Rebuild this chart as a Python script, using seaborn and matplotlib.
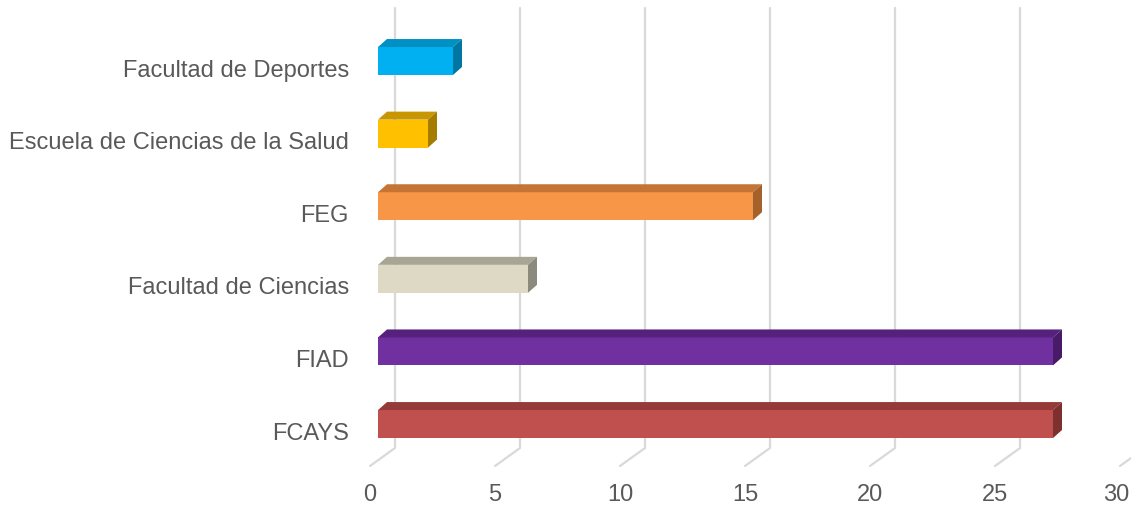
import matplotlib
matplotlib.use("Agg")
import matplotlib.pyplot as plt
import matplotlib.transforms as mtransforms
from matplotlib.patches import Polygon
from matplotlib.lines import Line2D
import seaborn as sns
import pandas as pd

categories = ["Facultad de Deportes", "Escuela de Ciencias de la Salud", "FEG",
              "Facultad de Ciencias", "FIAD", "FCAYS"]
values = [3, 2, 15, 6, 27, 27]
front_colors = ["#00B0F0", "#FFC000", "#F79646", "#DDD9C4", "#7030A0", "#C0504D"]
top_colors = ["#0090C4", "#C89600", "#C47535", "#A8A594", "#56217C", "#953A38"]
side_colors = ["#0077A2", "#A67C00", "#A4612C", "#8C8A7C", "#471B68", "#7E302E"]
x_ticks = [0, 5, 10, 15, 20, 25, 30]

sns.set_theme(style="white")
plt.rcParams['font.family'] = ['Liberation Sans', 'DejaVu Sans']

W, H = 1131, 505
fig = plt.figure(figsize=(W / 100, H / 100), dpi=100)
left_px, right_px, top_px, bot_px = 378, 1128, 8, 466
ax = fig.add_axes([left_px / W, 1 - bot_px / H, (right_px - left_px) / W, (bot_px - top_px) / H])

df = pd.DataFrame({"cat": categories, "val": values})
sns.barplot(data=df, y="cat", x="val", hue="cat", palette=front_colors, legend=False,
            orient="h", width=0.385, saturation=1, ax=ax, zorder=3)

ax.set_xlim(0, 30)
ax.set_ylim(5.578, -0.73)
for s in ax.spines.values():
    s.set_visible(False)
ax.set_xlabel("")
ax.set_ylabel("")
ax.grid(False)

# depth offsets in pixels
bdx, bdy = 9, 8         # bar depth
gback, gfront = 17, -8  # grid wall / floor offsets relative to bar front
floor_drop = 18

ident = mtransforms.IdentityTransform()

# gridlines (back wall + floor)
for v in x_ticks:
    xd, _ = ax.transData.transform((v, 0))
    top_y = H - top_px
    wall_bot = H - (bot_px - floor_drop)
    floor_y = H - bot_px
    line = Line2D([xd + gback, xd + gback, xd + gfront], [top_y, wall_bot, floor_y],
                  transform=ident, color="#D9D9D9", lw=1.6, zorder=1, clip_on=False)
    ax.add_line(line)

# 3D faces for bars
for p, tc, sc in zip(list(ax.patches), top_colors, side_colors):
    p.set_edgecolor("none")
    x0, y0 = p.get_x(), p.get_y()
    w, h = p.get_width(), p.get_height()
    (X0, Ya), (X1, Yb) = ax.transData.transform([(x0, y0), (x0 + w, y0 + h)])
    Ytop, Ybot = max(Ya, Yb), min(Ya, Yb)
    top = Polygon([(X0, Ytop), (X1, Ytop), (X1 + bdx, Ytop + bdy), (X0 + bdx, Ytop + bdy)],
                  closed=True, transform=ident, facecolor=tc, edgecolor="none", zorder=4,
                  clip_on=False)
    side = Polygon([(X1, Ytop), (X1 + bdx, Ytop + bdy), (X1 + bdx, Ybot + bdy), (X1, Ybot)],
                   closed=True, transform=ident, facecolor=sc, edgecolor="none", zorder=4,
                   clip_on=False)
    ax.add_patch(top)
    ax.add_patch(side)

ax.set_xticks(x_ticks)
ax.set_xticklabels([str(t) for t in x_ticks])
ax.tick_params(axis="x", length=0, pad=13, labelsize=17, labelcolor="#595959")
ax.tick_params(axis="y", length=0, pad=21, labelsize=17, labelcolor="#595959")

xlabels = ax.get_xticklabels()
for i, lab in enumerate(xlabels):
    shift = -8 if i < len(xlabels) - 1 else -12
    lab.set_transform(lab.get_transform() +
                      mtransforms.ScaledTranslation(shift / 100, 0, fig.dpi_scale_trans))
yoff = mtransforms.ScaledTranslation(0, -7 / 100, fig.dpi_scale_trans)
for lab in ax.get_yticklabels():
    lab.set_transform(lab.get_transform() + yoff)

fig.savefig("out.png", dpi=100, facecolor="white")
